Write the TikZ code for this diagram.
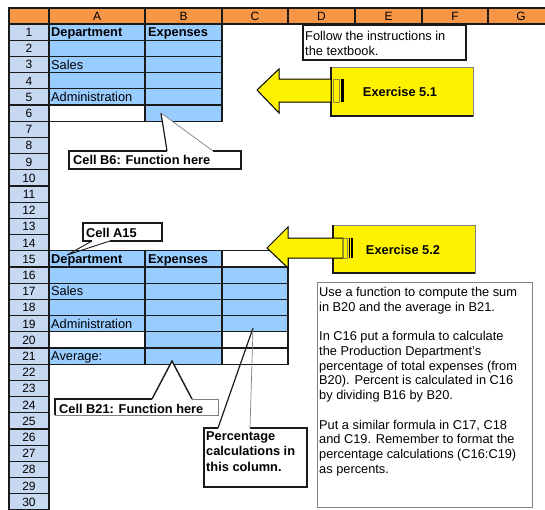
\documentclass[tikz,border=0pt]{standalone}
\usepackage{fontspec}
\setmainfont{Liberation Sans}
\definecolor{hdr}{HTML}{F79646}
\definecolor{rowlab}{HTML}{C6D9F1}
\definecolor{cellblue}{HTML}{99CCFF}
\definecolor{grid}{HTML}{1A1A1A}
\definecolor{olive}{HTML}{8C8C3C}
\begin{document}
\begin{tikzpicture}[x=1pt,y=-1pt,
  gl/.style={draw=grid,line width=1.2pt},
  ctext/.style={font=\fontsize{12.8}{14.7}\selectfont,inner sep=0pt,anchor=base west},
  htext/.style={font=\fontsize{12}{14}\selectfont,inner sep=0pt,anchor=base},
  boldtext/.style={font=\fontsize{12.8}{15.8}\selectfont\bfseries,inner sep=0pt},
  darkline/.style={draw=grid,line width=1.2pt},
  thinline/.style={draw=gray,line width=0.7pt},
  yellowbox/.style={fill=yellow,draw=gray,line width=0.7pt},
  arrowshape/.style={fill=yellow,draw=black,line width=1pt,line join=miter},
]
\useasboundingbox (0,0) rectangle (545,509);
\clip (0,0) rectangle (545,509);

% ---------- header row ----------
\path[fill=hdr] (9,8) rectangle (550,24);
\draw[gl] (550,8) -- (9,8) -- (9,24) -- (550,24);
\foreach \x in {49,145,222,288,355,422,488} \draw[gl] (\x,8) -- (\x,24);
\foreach \l/\c in {A/97,B/183.5,C/255,D/321.5,E/388.5,F/455,G/521}
  \node[htext] (h\l) at (\c,20.3) {\l};

% ---------- row labels ----------
\foreach \k in {1,...,30}{
  \pgfmathsetmacro\yt{24+(\k-1)*16.2}
  \pgfmathsetmacro\yb{24+\k*16.2}
  \path[fill=rowlab,gl] (9,\yt) rectangle (49,\yb);
  \node[htext] (r\k) at (29,\yb-3.8) {\k};
}

% ---------- table cells ----------
\foreach \xl/\xr/\k/\c in {
  49/145/1/cellblue,145/222/1/cellblue,
  49/145/2/cellblue,145/222/2/cellblue,
  49/145/3/cellblue,145/222/3/cellblue,
  49/145/4/cellblue,145/222/4/cellblue,
  49/145/5/cellblue,145/222/5/cellblue,
  49/145/6/white,145/222/6/cellblue,
  49/145/15/cellblue,145/222/15/cellblue,222/288/15/white,
  49/145/16/cellblue,145/222/16/cellblue,222/288/16/cellblue,
  49/145/17/cellblue,145/222/17/cellblue,222/288/17/cellblue,
  49/145/18/cellblue,145/222/18/cellblue,222/288/18/cellblue,
  49/145/19/cellblue,145/222/19/cellblue,222/288/19/cellblue,
  49/145/20/white,145/222/20/cellblue,222/288/20/white,
  49/145/21/cellblue,145/222/21/cellblue,222/288/21/white}{
  \pgfmathsetmacro\yt{24+(\k-1)*16.2}
  \pgfmathsetmacro\yb{24+\k*16.2}
  \path[fill=\c,gl] (\xl,\yt) rectangle (\xr,\yb);
}

% ---------- cell texts ----------
\node[ctext] (a1) at (51,36.6) {\textbf{Department}};
\node[ctext] (b1) at (148,36.6) {\textbf{Expenses}};
\node[ctext] (a3) at (51,69.0) {Sales};
\node[ctext] (a5) at (51,101.4) {Administration};
\node[ctext] (a15) at (51,263.4) {\textbf{Department}};
\node[ctext] (b15) at (148,263.4) {\textbf{Expenses}};
\node[ctext] (a17) at (51,295.8) {Sales};
\node[ctext] (a19) at (51,328.2) {Administration};
\node[ctext] (a21) at (51,360.6) {Average:};

% ---------- "Follow the instructions" box ----------
\path[fill=white,darkline] (303,25) rectangle (466,60);
\node[ctext,anchor=north west,align=left] (follow) at (305,31.3)
  {Follow the instructions in\\the textbook.};

% ---------- Exercise 5.1 ----------
\path[yellowbox] (331,67) rectangle (473,116);
\draw[darkline] (331,67) -- (331,116) -- (473,116);
\path[arrowshape] (257,90) -- (279,69) -- (279,79) -- (331,79) -- (331,102)
  -- (279,102) -- (279,113) -- cycle;
\path[fill=yellow,draw=olive,line width=0.7pt] (333.5,79) rectangle (339,102);
\path[fill=black] (341,79) rectangle (343.5,102);
\node[boldtext] (ex51) at (400,92) {Exercise 5.1};

% ---------- Exercise 5.2 ----------
\path[yellowbox] (333,225) rectangle (475,273);
\draw[darkline] (333,225) -- (333,273) -- (475,273);
\path[arrowshape] (267,248) -- (288,227) -- (288,238) -- (343,238) -- (343,258)
  -- (288,258) -- (288,268) -- cycle;
\path[fill=yellow,draw=olive,line width=0.7pt] (343,238) rectangle (347,258);
\path[fill=black] (348.5,238) rectangle (350.2,258);
\path[fill=black] (351,238) rectangle (352.7,258);
\node[boldtext] (ex52) at (403,250) {Exercise 5.2};

% ---------- Callout B6 ----------
\coordinate (b6tip) at (161,113);
\coordinate (b6l) at (167,151);
\coordinate (b6r) at (213,151);
\path[fill=white] (69,151) rectangle (241,169);
\path[fill=white] (b6l) -- (b6tip) -- (b6r) -- cycle;
\draw[darkline] (b6l) -- (69,151) -- (69,169) -- (241,169) -- (241,151) -- (b6r);
\draw[darkline] (b6tip) -- (b6l);
\draw[thinline] (b6tip) -- (b6r);
\node[boldtext,anchor=base west] (b6txt) at (73,164.6) {Cell B6: Function here};

% ---------- Callout A15 ----------
\coordinate (a15tip) at (67,255);
\coordinate (a15l) at (92,241);
\coordinate (a15r) at (110,241);
\path[fill=white] (83,223) rectangle (162,241);
\draw[darkline] (a15l) -- (83,241) -- (83,223) -- (162,223) -- (162,241) -- (a15r);
\draw[draw=grid,line width=0.9pt] (a15l) -- (a15tip) -- (a15r);
\node[boldtext,anchor=base west] (a15txt) at (86,237.6) {Cell A15};

% ---------- Callout B21 ----------
\coordinate (b21tip) at (172,361);
\coordinate (b21l) at (152,399);
\coordinate (b21r) at (192,399);
\path[fill=white] (55,399) rectangle (218,415);
\path[fill=white] (b21l) -- (b21tip) -- (b21r) -- cycle;
\draw[darkline] (b21l) -- (55,399) -- (55,415);
\draw[thinline] (55,415) -- (218,415) -- (218,399) -- (b21r);
\draw[draw=grid,line width=1.4pt] (b21l) -- (b21tip) -- (b21r);
\node[boldtext,anchor=base west] (b21txt) at (59,413.6) {Cell B21: Function here};

% ---------- Callout percentage ----------
\coordinate (pctip) at (253,328);
\coordinate (pcl) at (218,428);
\coordinate (pcr) at (250,428);
\path[fill=white] (204,428) rectangle (307,487);
\draw[darkline] (pcl) -- (204,428) -- (204,487) -- (307,487) -- (307,428) -- (pcr);
\draw[darkline] (pctip) -- (pcl);
\draw[thinline] (pctip) -- (pcr);
\node[boldtext,anchor=north west,align=left] (pctxt) at (206,431)
  {Percentage\\calculations in\\this column.};

% ---------- instruction text box ----------
\path[fill=white,draw=gray,line width=0.8pt] (317,282) rectangle (532,507);
\node[ctext,anchor=north west,align=left] (instr) at (319,287.3)
  {Use a function to compute the sum\\
   in B20 and the average in B21.\\[14.7pt]
   In C16 put a formula to calculate\\
   the Production Department’s\\
   percentage of total expenses (from\\
   B20). Percent is calculated in C16\\
   by dividing B16 by B20.\\[14.7pt]
   Put a similar formula in C17, C18\\
   and C19. Remember to format the\\
   percentage calculations (C16:C19)\\
   as percents.};
\end{tikzpicture}
\end{document}
